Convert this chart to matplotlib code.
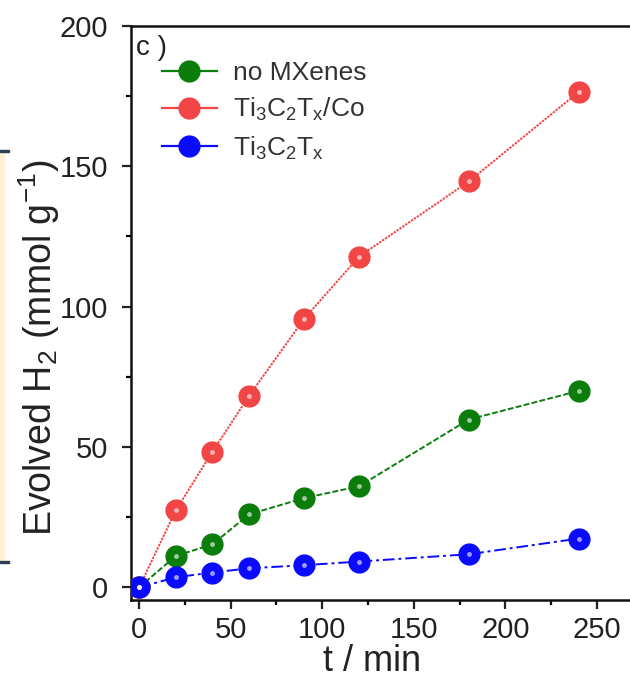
import matplotlib
matplotlib.use("Agg")
import matplotlib.pyplot as plt
from matplotlib.lines import Line2D
from matplotlib.patches import Rectangle
from matplotlib.ticker import MultipleLocator

plt.rcParams['font.family'] = ['Liberation Sans', 'DejaVu Sans']
plt.rcParams['mathtext.fontset'] = 'custom'
plt.rcParams['mathtext.rm'] = 'Liberation Sans'
plt.rcParams['mathtext.it'] = 'Liberation Sans'
plt.rcParams['mathtext.default'] = 'regular'

# time points (min)
t_min = [0, 20, 40, 60, 90, 120, 180, 240]
# evolved H2 (mmol g-1)
no_mxenes = [0, 11.2, 15.3, 26.0, 31.8, 36.0, 59.8, 70.0]
ti3c2tx_co = [0, 27.4, 48.3, 68.2, 95.6, 117.8, 144.6, 176.5]
ti3c2tx = [0, 3.6, 5.3, 6.8, 7.9, 9.2, 11.8, 17.4]

series = [
    (no_mxenes, 'no MXenes', '#0b7d0b', (0, (3, 1.2))),
    (ti3c2tx_co, r'Ti$_3$C$_2$T$_x$/Co', '#f24545', (0, (1.2, 0.6))),
    (ti3c2tx, r'Ti$_3$C$_2$T$_x$', '#0a0aff', (0, (6, 2, 1.5, 2))),
]

fig = plt.figure(figsize=(6.3, 6.83), dpi=100)
ax = fig.add_axes([0.208, 0.1215, 0.792, 0.8405])

handles = []
for vals, label, color, ls in series:
    ax.plot(t_min, vals, color=color, lw=1.4, ls=ls, zorder=2)
    ax.plot(t_min, vals, 'o', color=color, ms=15, mec=color, zorder=3)
    ax.plot(t_min, vals, 'o', color='white', ms=3.5, alpha=0.6, mew=0, zorder=4)
    handles.append(Line2D([], [], color=color, lw=1.6, marker='o', ms=15))

ax.set_xlim(-4.4, 268)
ax.set_ylim(-4.5, 200)
ax.xaxis.set_major_locator(MultipleLocator(50))
ax.xaxis.set_minor_locator(MultipleLocator(25))
ax.yaxis.set_major_locator(MultipleLocator(50))
ax.yaxis.set_minor_locator(MultipleLocator(25))

ax.spines['right'].set_visible(False)
for s in ['left', 'bottom', 'top']:
    ax.spines[s].set_linewidth(1.8)
    ax.spines[s].set_color('#111111')
ax.tick_params(which='major', direction='out', length=6.5, width=1.6,
               labelsize=21, colors='#222222')
ax.tick_params(which='minor', direction='out', length=3.5, width=1.6)
ax.tick_params(axis='y', which='major', pad=10)
ax.tick_params(axis='x', which='major', pad=5)
ax.tick_params(axis='x', top=False)

ax.set_xlabel('t / min', fontsize=26, color='#222222')
ax.set_ylabel(r'Evolved H$_2$ (mmol g$^{-1}$)', fontsize=27, color='#222222')
ax.xaxis.set_label_coords(0.483, -0.076)
ax.yaxis.set_label_coords(-0.138, 0.44)

ax.text(0.01, 0.985, 'c )', transform=ax.transAxes, fontsize=20,
        va='top', ha='left', color='#222222')

leg = ax.legend(handles, [s[1] for s in series], loc='upper left',
                bbox_to_anchor=(0.04, 0.957), frameon=False, fontsize=19,
                handlelength=2.1, handletextpad=0.6, labelspacing=0.42,
                borderaxespad=0)
for txt in leg.get_texts():
    txt.set_color('#333333')

# cropped neighbour panel edge at the far left
W, H = 630, 683
fig.patches.append(Rectangle((0, (H - 562) / H), 4 / W, 412 / H,
                             transform=fig.transFigure, color='#fdf2d6', zorder=0))
fig.patches.append(Rectangle((0, (H - 152) / H), 9 / W, 2 / H,
                             transform=fig.transFigure, color='#2c3e50', zorder=1))
fig.patches.append(Rectangle((0, (H - 563) / H), 9 / W, 2 / H,
                             transform=fig.transFigure, color='#2c3e50', zorder=1))

fig.savefig('out.png', dpi=100)
